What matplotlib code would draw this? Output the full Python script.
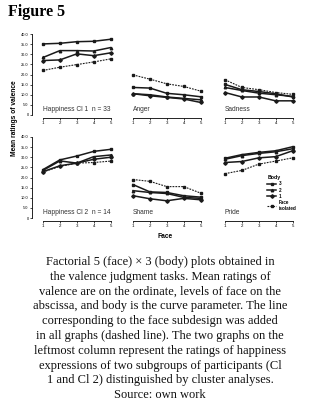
#!/usr/bin/env python3
import matplotlib
matplotlib.use("Agg")
import matplotlib.pyplot as plt


W, H = 320, 409
FACE = [1, 2, 3, 4, 5]
Y_TICKS = [0, 5, 10, 15, 20, 25, 30, 35, 40]
Y_TICK_LABELS = ["0", "5.0", "10.0", "15.0", "20.0", "25.0", "30.0", "35.0", "40.0"]
BODY_LABELS = ["3", "2", "1", "Face\nisolated"]

# each panel: body 3, body 2, body 1, face isolated (dashed)
PANEL_TITLES = ["Happiness Cl 1  n = 33", "Anger", "Sadness",
                "Happiness Cl 2  n = 14", "Shame", "Pride"]
HAPPY_CL1 = [
    [35.1, 35.4, 36.2, 36.4, 37.4],
    [28.4, 31.8, 31.8, 31.6, 33.3],
    [26.9, 27.2, 30.2, 29.3, 30.7],
    [22.0, 23.6, 24.9, 26.2, 27.7],
]
ANGER = [
    [13.6, 13.3, 10.7, 10.0, 9.0],
    [10.5, 10.0, 8.9, 8.2, 7.5],
    [10.5, 9.5, 8.7, 7.9, 6.2],
    [19.8, 17.7, 15.4, 14.1, 11.8],
]
SADNESS = [
    [15.1, 12.5, 11.6, 10.5, 8.9],
    [13.6, 12.1, 10.8, 10.0, 9.2],
    [11.1, 8.9, 8.9, 7.0, 7.0],
    [17.4, 13.6, 12.5, 11.1, 10.2],
]
HAPPY_CL2 = [
    [23.9, 28.7, 30.6, 32.9, 33.9],
    [23.5, 28.2, 27.1, 30.3, 31.1],
    [22.9, 25.8, 27.1, 29.0, 30.0],
    [22.7, 25.5, 27.1, 27.4, 28.1],
]
SHAME = [
    [16.5, 12.9, 12.6, 11.0, 10.3],
    [13.5, 12.6, 12.1, 10.2, 9.7],
    [11.0, 9.5, 8.5, 9.7, 9.0],
    [19.0, 18.1, 15.5, 15.5, 12.3],
]
PRIDE = [
    [29.5, 31.3, 32.4, 33.2, 35.2],
    [29.0, 30.8, 31.9, 32.7, 34.2],
    [27.4, 27.9, 29.7, 30.3, 33.2],
    [21.9, 23.5, 26.6, 28.1, 29.7],
]
PANELS = [HAPPY_CL1, ANGER, SADNESS, HAPPY_CL2, SHAME, PRIDE]

CAPTION = (
    "Factorial 5 (face) \u00d7 3 (body) plots obtained in\n"
    "the valence judgment tasks. Mean ratings of\n"
    "valence are on the ordinate, levels of face on the\n"
    "abscissa, and body is the curve parameter. The line\n"
    "corresponding to the face subdesign was added\n"
    "in all graphs (dashed line). The two graphs on the\n"
    "leftmost column represent the ratings of happiness\n"
    "expressions of two subgroups of participants (Cl\n"
    "1 and Cl 2) distinguished by cluster analyses.\n"
    "Source: own work"
)

SANS = "Liberation Sans"
SERIF = "Liberation Serif"
INK = "#1a1a1a"


def px_axes(fig, left, top, width, height):
  return fig.add_axes([left / W, 1 - (top + height) / H, width / W, height / H])


def draw_panel(ax, series, title, show_y):
  styles = [("s", "-"), ("^", "-"), ("D", "-"), ("s", "--")]
  for vals, (mk, ls), lab in zip(series, styles, BODY_LABELS):
    if ls == "--":
      ax.plot(FACE, vals, ls=ls, marker=mk, ms=1.6, lw=0.8, color=INK,
              label=lab, dashes=(1.6, 1.0))
    else:
      ax.plot(FACE, vals, ls=ls, marker=mk, ms=1.8, lw=1.1, color=INK,
              label=lab)
  ax.set_xlim(0.35, 5.2)
  ax.set_ylim(0, 40)
  for s in ("top", "right"):
    ax.spines[s].set_visible(False)
  ax.spines["bottom"].set_position(("outward", 2))
  ax.spines["bottom"].set_bounds(1, 5)
  ax.spines["bottom"].set_linewidth(0.6)
  ax.set_xticks(FACE)
  ax.set_xticklabels([str(f) for f in FACE], fontsize=3.2, family=SANS)
  ax.tick_params(axis="x", length=1.5, width=0.5, pad=1)
  if show_y:
    ax.spines["left"].set_bounds(0, 40)
    ax.spines["left"].set_linewidth(0.6)
    ax.set_yticks(Y_TICKS)
    ax.set_yticklabels(Y_TICK_LABELS, fontsize=2.8, family=SANS)
    ax.tick_params(axis="y", length=1.5, width=0.5, pad=1)
  else:
    ax.spines["left"].set_visible(False)
    ax.set_yticks([])
  ax.text(1, 2.5, title, fontsize=4.8, family=SANS, va="center", ha="left",
          color="#333333")
  ax.patch.set_alpha(0)


def main():
  fig = plt.figure(figsize=(W / 100, H / 100), dpi=100)
  fig.text(8 / W, 1 - 12 / H, "Figure 5", fontsize=11.5, fontweight="bold",
           family=SERIF, va="center", ha="left")

  lefts = [32, 122, 214]
  tops = [34, 137]
  axes = []
  for i, (series, title) in enumerate(zip(PANELS, PANEL_TITLES)):
    r, c = divmod(i, 3)
    ax = px_axes(fig, lefts[c], tops[r], 82, 81)
    draw_panel(ax, series, title, c == 0)
    axes.append(ax)

  leg = axes[5].legend(title="Body", loc="upper left", bbox_to_anchor=(0.62, 0.56),
                       frameon=False, fontsize=3.3, title_fontsize=3.8,
                       handlelength=2.0, handletextpad=0.5, labelspacing=0.3,
                       borderpad=0)
  leg.get_title().set_fontweight("bold")
  leg.get_title().set_family(SANS)
  leg._legend_box.align = "left"
  for t in leg.get_texts():
    t.set_fontweight("bold")
    t.set_family(SANS)

  fig.text(14 / W, 1 - 118 / H, "Mean ratings of valence", rotation=90,
           fontsize=4.8, fontweight="bold", family=SANS, ha="center", va="center")
  fig.text(165 / W, 1 - 237 / H, "Face", fontsize=4.8, fontweight="bold",
           family=SANS, ha="center", va="center")

  fig.text(0.5, 1 - 256 / H, CAPTION, fontsize=9.0, family=SERIF, ha="center",
           va="top", linespacing=1.31, color="#111111")

  fig.savefig("out.png", dpi=100)


if __name__ == "__main__":
  main()
